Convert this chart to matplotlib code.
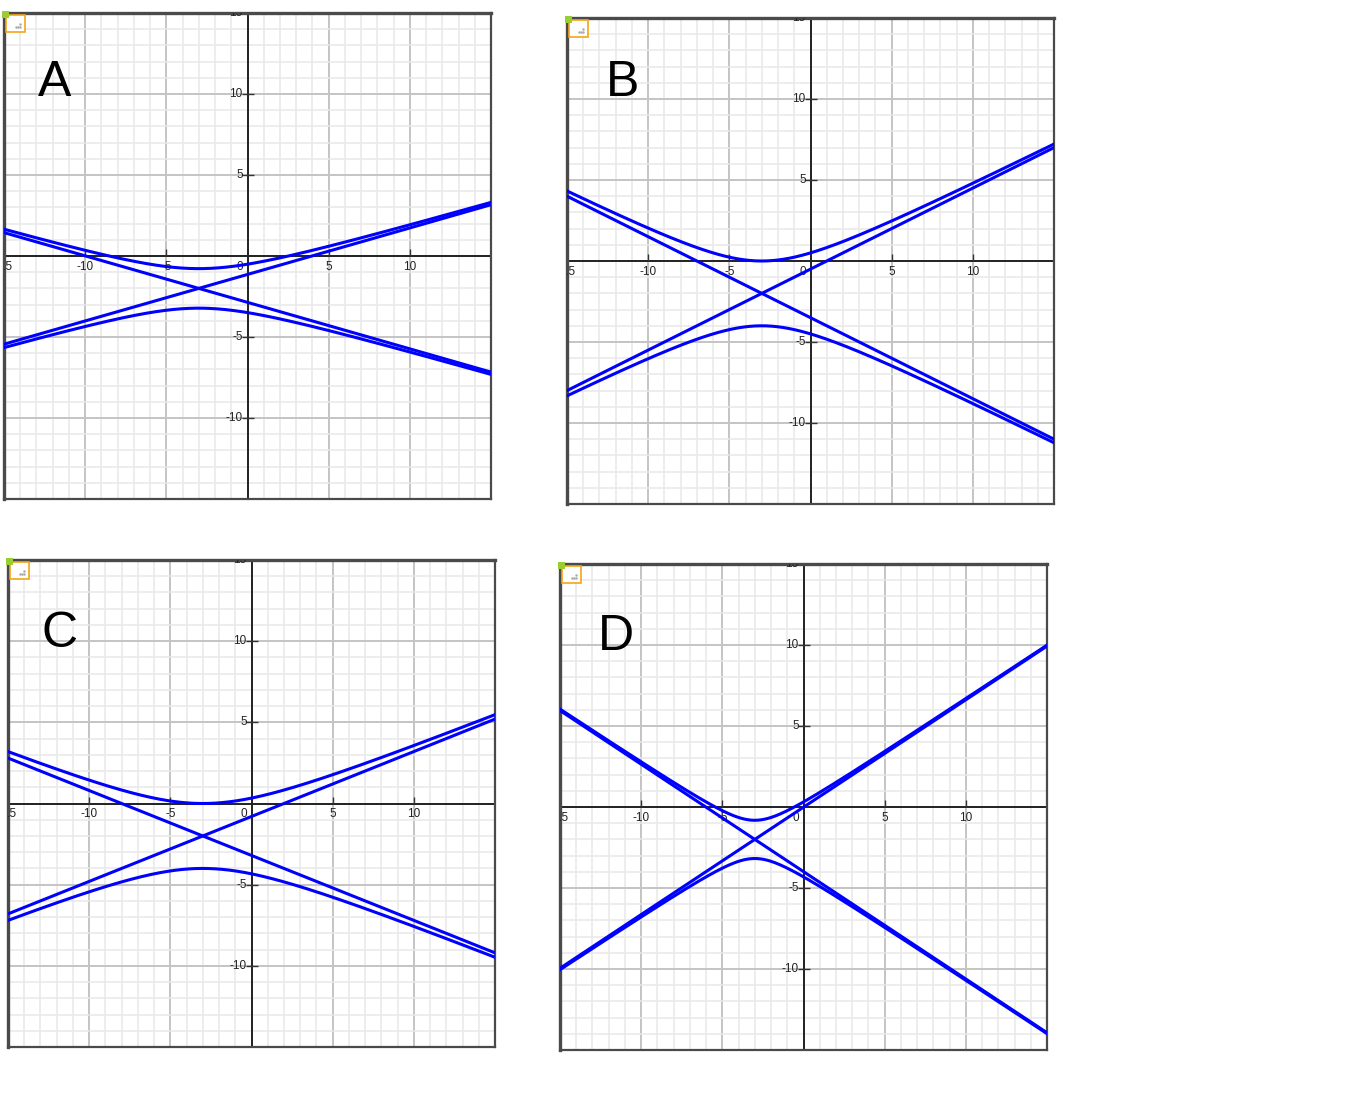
import numpy as np
import matplotlib
matplotlib.use('Agg')
import matplotlib.pyplot as plt
from matplotlib.patches import Rectangle

plt.rcParams['font.family'] = ['Liberation Sans', 'DejaVu Sans']

# four answer choices: (y-k)^2/a^2 - (x-h)^2/b^2 = 1 with its asymptotes
letters = ['A', 'B', 'C', 'D']
centre_x = [-3, -3, -3, -3]
centre_y = [-2, -2, -2, -2]
semi_a = [1.22, 2.0, 2.0, 1.18]
semi_b = [4.25, 4.0, 5.0, 1.78]

x_labels = [-15, -10, -5, 5, 10]
y_labels = [15, 10, 5, -5, -10]

W, H = 1360, 1096
# panel frames in pixels: left, top, right, bottom
frames = [(4, 13, 491, 499), (567, 18, 1054, 504),
          (8, 560, 495, 1047), (560, 564, 1047, 1050)]
# letter anchor (axes fraction)
letter_xy = [(0.070, 0.829), (0.080, 0.840), (0.068, 0.821), (0.078, 0.823)]

fig = plt.figure(figsize=(W / 100, H / 100), dpi=100)

for i in range(4):
    l, t, r, b = frames[i]
    pw, ph = r - l, b - t
    ax = fig.add_axes([l / W, 1 - b / H, pw / W, ph / H])
    ax.set_xlim(-15, 15)
    ax.set_ylim(-15, 15)
    ax.set_xticks(range(-15, 16, 5))
    ax.set_yticks(range(-15, 16, 5))
    ax.set_xticks(range(-15, 16), minor=True)
    ax.set_yticks(range(-15, 16), minor=True)
    ax.grid(which='minor', color='#e8e8e8', lw=1.1)
    ax.grid(which='major', color='#c4c4c4', lw=1.4)
    ax.tick_params(which='both', length=0, labelbottom=False, labelleft=False)
    ax.set_axisbelow(True)
    for s in ax.spines.values():
        s.set_color('#4a4a4a')
        s.set_linewidth(1.6)
    ax.spines['left'].set_linewidth(2.4)
    ax.spines['top'].set_linewidth(2.4)

    ax.axhline(0, color='#222222', lw=1.4, zorder=2)
    ax.axvline(0, color='#222222', lw=1.4, zorder=2)

    # axis tick marks and labels
    ax.plot(x_labels, [0] * len(x_labels), ls='none', marker=2, ms=5, mew=1, color='#333333', zorder=2)
    ax.plot([0] * len(y_labels), y_labels, ls='none', marker='_', ms=8, mew=1, color='#333333', zorder=2)
    for v in x_labels:
        ax.text(v, -0.3, str(v), ha='center', va='top', fontsize=8.5, color='#222222', clip_on=True)
    ax.text(-0.3, -0.3, '0', ha='right', va='top', fontsize=8.5, color='#222222')
    for v in y_labels:
        ax.text(-0.3, v, str(v), ha='right', va='center', fontsize=8.5, color='#222222', clip_on=True)

    # hyperbola and asymptotes
    h, k, a, bb = centre_x[i], centre_y[i], semi_a[i], semi_b[i]
    xs = np.linspace(-15, 15, 800)
    half = a * np.sqrt(1 + ((xs - h) / bb) ** 2)
    m = a / bb
    for ys in (k + half, k - half, k + m * (xs - h), k - m * (xs - h)):
        ax.plot(xs, ys, color='#0000ff', lw=2.2, zorder=3)

    # little widget box in the corner
    ax.add_patch(Rectangle((2 / pw, 1 - 19 / ph), 19 / pw, 17 / ph, transform=ax.transAxes,
                           facecolor='white', edgecolor='#f2a516', lw=1.2, zorder=5))
    ax.scatter([14 / pw, 16 / pw, 16 / pw, 12 / pw], [1 - 14 / ph, 1 - 14 / ph, 1 - 11 / ph, 1 - 14 / ph],
               s=0.6, color='#aaaaaa', transform=ax.transAxes, zorder=6)
    ax.add_patch(Rectangle((-2 / pw, 1 - 5 / ph), 7 / pw, 7 / ph, transform=ax.transAxes,
                           facecolor='#9acd32', edgecolor='none', zorder=6, clip_on=False))

    ax.text(letter_xy[i][0], letter_xy[i][1], letters[i], transform=ax.transAxes,
            fontsize=36, ha='left', va='baseline', color='black', zorder=6)

fig.savefig('out.png', dpi=100)
